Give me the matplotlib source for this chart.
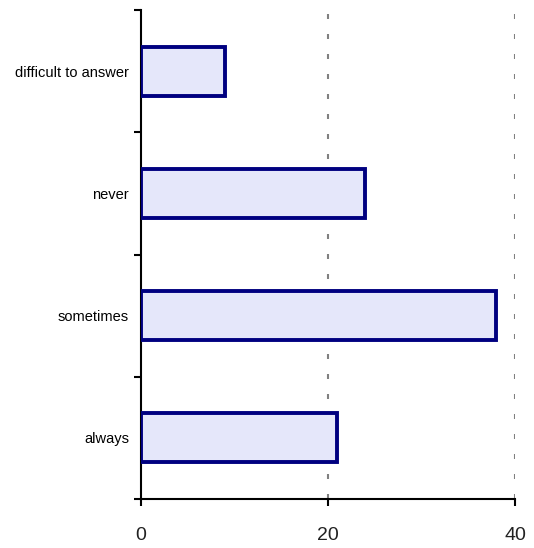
import matplotlib
matplotlib.use('Agg')
import matplotlib.pyplot as plt
import numpy as np

categories = ['always', 'sometimes', 'never', 'difficult to answer']
values = [21, 38, 24, 9]
xticks = [0, 20, 40]

fig = plt.figure(figsize=(5.34, 5.48), dpi=100)
ax = fig.add_axes([0.264, 0.0894, 0.7004, 0.8923])

y = np.arange(len(categories))
ax.barh(y, values, height=0.4, color='#E5E7FA', edgecolor='#000080', linewidth=2.8, zorder=3)

ax.set_xlim(0, 40)
ax.set_ylim(-0.5, len(categories) - 0.5)

ax.set_xticks(xticks)
ax.set_xticklabels([str(t) for t in xticks], family='Liberation Sans', fontsize=14, color='#222222')
ax.set_yticks(y)
ax.set_yticklabels(categories, family='Liberation Sans', fontsize=10.5)
ax.set_yticks(np.arange(-0.5, len(categories)), minor=True)
ax.tick_params(axis='y', which='major', length=0, pad=8.5)
ax.tick_params(axis='y', which='minor', length=5, width=1.5, direction='out')
ax.tick_params(axis='x', length=5, width=1.5, direction='out', pad=15)

for x in xticks[1:]:
    ax.axvline(x, color='#808080', linestyle=(0, (2.4, 7.2)), linewidth=1.5, zorder=1)

ax.spines['top'].set_visible(False)
ax.spines['right'].set_visible(False)
ax.spines['left'].set_linewidth(1.5)
ax.spines['bottom'].set_linewidth(1.5)

fig.savefig('out.png', dpi=100)
